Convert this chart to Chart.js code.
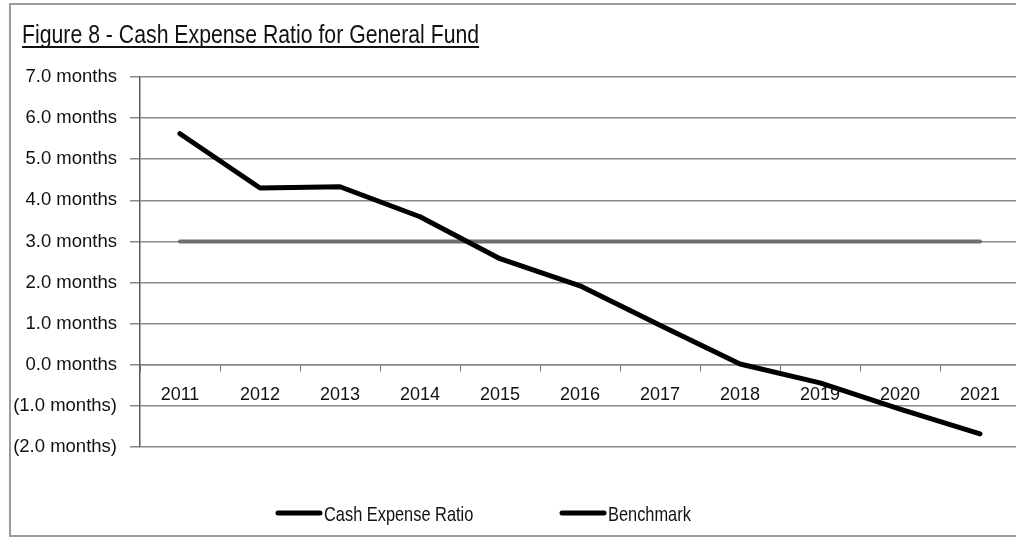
<!DOCTYPE html>
<html>
<head>
<meta charset="utf-8">
<script src="https://cdn.jsdelivr.net/npm/chart.js@4.4.1/dist/chart.umd.min.js"></script>
<style>
  html, body { margin: 0; padding: 0; background: #fff; overflow: hidden; }
  #frame { position: absolute; left: 9px; top: 3px; width: 1040px; height: 530px; border: 2px solid #9a9a9a; }
  #wrap { position: absolute; left: 0; top: 0; width: 1024px; height: 537px; }
</style>
</head>
<body>
<div id="frame"></div>
<div id="wrap"><canvas id="chart" width="1024" height="537"></canvas></div>
<script>
//////////////////////////////////////////////////
// Data

const title = 'Figure 8 - Cash Expense Ratio for General Fund'
const years = ['2011', '2012', '2013', '2014', '2015', '2016', '2017', '2018', '2019', '2020', '2021']
const cashExpenseRatio = [5.62, 4.3, 4.33, 3.6, 2.58, 1.92, 0.96, 0.02, -0.44, -1.08, -1.68]
const benchmark = [3.0, 3.0, 3.0, 3.0, 3.0, 3.0, 3.0, 3.0, 3.0, 3.0, 3.0]
const yMin = -2
const yMax = 7

//////////////////////////////////////////////////
// Look

const FONT = "'Liberation Sans', Arial, sans-serif"
const TEXT = '#111'

// 3.0 -> "3.0 months", -1.0 -> "(1.0 months)"
const monthsLabel = (v) => v < 0 ? `(${(-v).toFixed(1)} months)` : `${v.toFixed(1)} months`

// Narrow-looking text: squeeze horizontally around x
const fillNarrow = (ctx, text, x, y, squeeze) => {
  ctx.save()
  ctx.translate(x, y)
  ctx.scale(squeeze, 1)
  ctx.fillText(text, 0, 0)
  ctx.restore()
  return ctx.measureText(text).width * squeeze
}

// Underlined heading in the top-left corner
const titlePlugin = {
  id: 'underlinedTitle',
  afterDraw (chart) {
    const { ctx } = chart
    ctx.save()
    ctx.font = `25px ${FONT}`
    ctx.fillStyle = TEXT
    ctx.textBaseline = 'alphabetic'
    const w = fillNarrow(ctx, title, 22, 43, 0.85)
    ctx.fillRect(22, 46, w, 2)
    ctx.restore()
  }
}

// Legend with a thick black stroke before each label
const lineLegendPlugin = {
  id: 'lineLegend',
  afterDraw (chart, args, opts) {
    const { ctx } = chart
    ctx.save()
    ctx.font = `21px ${FONT}`
    ctx.textBaseline = 'middle'
    chart.data.datasets.forEach((ds, i) => {
      const x = opts.x[i]
      ctx.strokeStyle = '#000'
      ctx.lineWidth = 5
      ctx.lineCap = 'round'
      ctx.beginPath()
      ctx.moveTo(x, opts.y)
      ctx.lineTo(x + opts.lineLength, opts.y)
      ctx.stroke()
      ctx.fillStyle = TEXT
      fillNarrow(ctx, ds.label, x + opts.lineLength + 4, opts.y + 2, 0.78)
    })
    ctx.restore()
  }
}

new Chart(document.getElementById('chart'), {
  type: 'line',
  plugins: [titlePlugin, lineLegendPlugin],
  data: {
    labels: years,
    datasets: [
      {
        label: 'Cash Expense Ratio',
        data: cashExpenseRatio,
        borderColor: '#000',
        borderWidth: 5,
        borderCapStyle: 'round',
        borderJoinStyle: 'round',
        pointRadius: 0,
        tension: 0
      },
      {
        label: 'Benchmark',
        data: benchmark,
        borderColor: '#6f6f6f',
        borderWidth: 4,
        borderCapStyle: 'round',
        pointRadius: 0
      }
    ]
  },
  options: {
    responsive: false,
    animation: false,
    layout: {
      padding: { top: 77, left: 13, right: 4, bottom: 90 }
    },
    plugins: {
      legend: { display: false },
      tooltip: { enabled: false },
      lineLegend: { x: [278, 562], y: 513, lineLength: 42 }
    },
    scales: {
      x: {
        position: { y: 0 },
        offset: true,
        grid: {
          display: true,
          drawOnChartArea: false,
          offset: true,
          tickLength: 6,
          color: '#777'
        },
        border: { display: true, color: '#888', width: 1.5 },
        ticks: {
          color: TEXT,
          padding: 13,
          font: { family: FONT, size: 18 },
          maxRotation: 0
        }
      },
      y: {
        min: yMin,
        max: yMax,
        grid: { color: '#8a8a8a', lineWidth: 1.5, tickLength: 10 },
        border: { color: '#5a5a5a', width: 1.5 },
        ticks: {
          stepSize: 1,
          color: TEXT,
          padding: 13,
          font: { family: FONT, size: 18.5 },
          callback: monthsLabel
        },
        afterFit (scale) {
          scale.width = 127
        }
      }
    }
  }
})
</script>
</body>
</html>
